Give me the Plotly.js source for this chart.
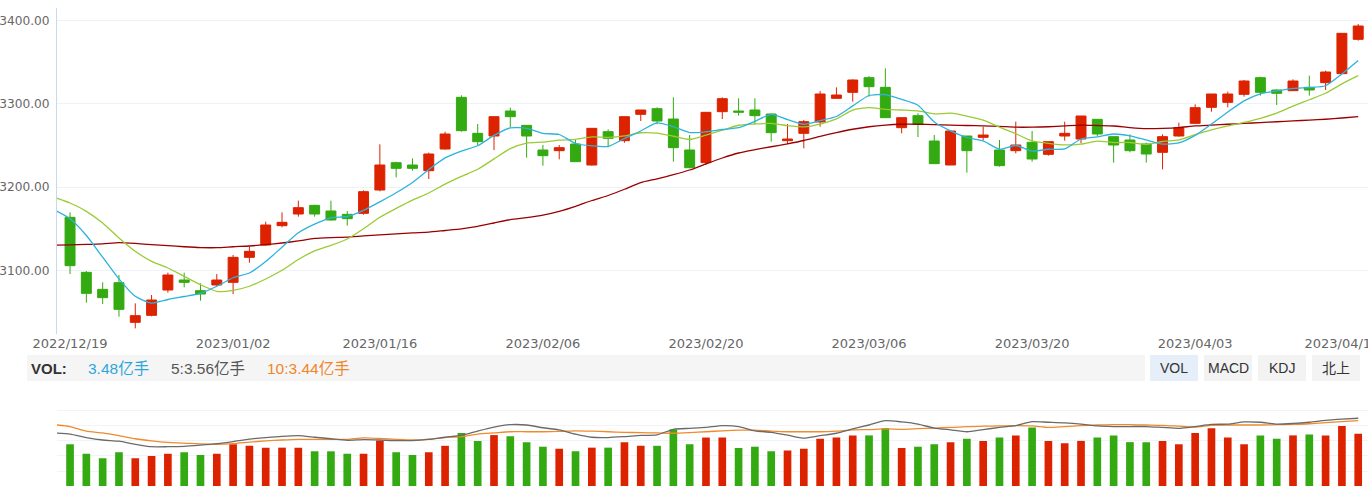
<!DOCTYPE html>
<html>
<head>
<meta charset="utf-8">
<script src="https://cdn.plot.ly/plotly-3.0.1.min.js"></script>
<style>
html,body{margin:0;padding:0;background:#fff;}
#chart{width:1368px;height:486px;}
</style>
</head>
<body>
<div id="chart"></div>
<script>
// ---------- data ----------
const dates = [
 '2022/12/19','2022/12/20','2022/12/21','2022/12/22','2022/12/23','2022/12/26','2022/12/27','2022/12/28','2022/12/29','2022/12/30',
 '2023/01/03','2023/01/04','2023/01/05','2023/01/06','2023/01/09','2023/01/10','2023/01/11','2023/01/12','2023/01/13','2023/01/16',
 '2023/01/17','2023/01/18','2023/01/19','2023/01/20','2023/01/30','2023/01/31','2023/02/01','2023/02/02','2023/02/03','2023/02/06',
 '2023/02/07','2023/02/08','2023/02/09','2023/02/10','2023/02/13','2023/02/14','2023/02/15','2023/02/16','2023/02/17','2023/02/20',
 '2023/02/21','2023/02/22','2023/02/23','2023/02/24','2023/02/27','2023/02/28','2023/03/01','2023/03/02','2023/03/03','2023/03/06',
 '2023/03/07','2023/03/08','2023/03/09','2023/03/10','2023/03/13','2023/03/14','2023/03/15','2023/03/16','2023/03/17','2023/03/20',
 '2023/03/21','2023/03/22','2023/03/23','2023/03/24','2023/03/27','2023/03/28','2023/03/29','2023/03/30','2023/03/31','2023/04/03',
 '2023/04/04','2023/04/06','2023/04/07','2023/04/10','2023/04/11','2023/04/12','2023/04/13','2023/04/14','2023/04/17','2023/04/18'
];
const prevDate = '2022/12/16'; // moving averages start one session earlier

const open = [
 3163.8,3097.8,3077.4,3085.4,3037.8,3046.2,3076.6,3088.6,3075.8,3082.6,
 3085.8,3115.8,3130.6,3153.8,3167.8,3178.2,3171.4,3167.4,3168.6,3196.6,
 3229.4,3226.6,3219.8,3245.8,3307.8,3264.6,3261.4,3291.4,3274.2,3244.6,
 3243.8,3251.8,3226.6,3266.6,3255.8,3287.4,3294.2,3281.8,3244.6,3229.4,
 3290.6,3291.4,3292.6,3287.8,3255.8,3264.6,3278.2,3306.6,3313.8,3331.4,
 3319.8,3271.4,3285.8,3255.4,3226.6,3261.4,3259.8,3244.6,3243.8,3253.8,
 3239.4,3261.4,3257.8,3281.4,3260.6,3256.6,3251.8,3241.8,3261.4,3276.6,
 3295.8,3301.8,3311.4,3331.4,3316.6,3315.8,3319.8,3325.4,3336.2,3377.4
];
const high = [
 3169.8,3099.4,3085.8,3094.6,3060.6,3070.6,3097.4,3097.4,3084.6,3095.8,
 3118.6,3128.6,3158.6,3169.8,3183.8,3178.8,3183.8,3171.4,3196.2,3251.4,
 3230.6,3234.6,3241.4,3266.6,3310.2,3275.8,3284.6,3295.4,3274.2,3250.6,
 3250.6,3256.6,3270.6,3269.4,3284.6,3292.6,3295.8,3307.8,3262.6,3289.8,
 3307.8,3306.6,3306.6,3288.6,3275.8,3280.6,3315.4,3319.8,3329.4,3333.4,
 3342.6,3283.4,3288.6,3262.6,3267.4,3261.4,3272.6,3256.6,3278.6,3267.4,
 3254.6,3278.6,3285.4,3281.4,3260.6,3263.4,3253.4,3263.4,3277.4,3299.4,
 3311.8,3314.6,3328.6,3332.6,3317.4,3329.4,3333.8,3339.8,3384.6,3395.8
];
const low = [
 3095.8,3061.4,3059.8,3044.6,3030.6,3045.0,3073.4,3079.8,3063.8,3081.0,
 3071.8,3109.4,3130.0,3151.8,3164.6,3164.6,3159.8,3153.8,3167.0,3195.0,
 3211.8,3219.8,3209.8,3245.0,3266.6,3250.6,3244.6,3271.8,3235.4,3225.8,
 3233.4,3230.6,3225.8,3247.8,3253.4,3279.4,3275.4,3230.6,3222.6,3226.6,
 3281.8,3285.8,3275.4,3254.6,3251.8,3246.6,3272.6,3306.6,3302.6,3308.6,
 3283.4,3264.6,3260.2,3228.2,3226.6,3217.4,3256.6,3224.6,3240.6,3230.6,
 3237.8,3255.8,3252.6,3261.4,3229.4,3241.8,3229.4,3221.4,3260.6,3276.6,
 3290.6,3295.8,3308.6,3309.8,3298.6,3315.4,3309.8,3316.6,3336.2,3375.8
];
const close = [
 3105.8,3072.6,3067.4,3053.4,3045.8,3064.6,3094.6,3085.8,3071.8,3088.6,
 3115.8,3123.0,3154.6,3157.8,3175.4,3167.8,3160.6,3162.2,3194.6,3226.6,
 3222.6,3222.6,3239.8,3263.8,3267.8,3254.6,3284.6,3284.6,3261.4,3237.8,
 3247.4,3230.6,3270.6,3258.6,3284.6,3292.6,3279.4,3247.4,3223.4,3289.8,
 3306.2,3290.0,3285.8,3265.4,3257.8,3278.6,3311.8,3310.6,3328.6,3320.6,
 3283.4,3283.4,3275.4,3228.2,3267.4,3243.8,3262.6,3225.8,3250.6,3233.8,
 3254.6,3264.6,3285.4,3263.8,3250.6,3243.8,3239.8,3260.6,3271.4,3295.4,
 3311.8,3311.8,3327.4,3313.8,3312.6,3327.4,3316.6,3338.2,3384.6,3393.4
];
// volume (亿手)
const volume = [
 3.88,3.57,3.42,3.62,3.42,3.50,3.57,3.62,3.53,3.57,
 3.88,3.83,3.77,3.77,3.77,3.65,3.65,3.57,3.57,4.00,
 3.62,3.53,3.62,3.83,4.25,3.99,4.18,4.14,3.95,3.80,
 3.73,3.65,3.77,3.77,3.95,3.83,3.83,4.36,3.88,4.10,
 4.10,3.76,3.80,3.65,3.68,3.73,4.06,4.10,4.17,4.17,
 4.40,3.76,3.80,3.88,3.95,4.06,3.99,4.10,4.17,4.43,
 3.99,3.91,3.99,4.10,4.17,3.95,3.95,3.99,3.88,4.25,
 4.40,4.10,3.88,4.17,4.06,4.17,4.20,4.17,4.48,4.22
];
// moving averages, first value belongs to prevDate
const ma5 = [
 3173,3162,3142,3116,3090,
 3069.0,3060.8,3065.2,3068.8,3072.5,3081.1,3091.3,3097.0,3110.8,3128.0,
 3145.3,3155.7,3163.2,3164.8,3172.1,3182.4,3193.3,3205.7,3221.2,3235.1,
 3243.3,3249.7,3262.1,3271.1,3270.6,3264.6,3263.2,3252.4,3249.6,3249.0,
 3258.4,3267.4,3277.2,3272.5,3265.5,3266.5,3269.2,3271.4,3279.0,3287.4,
 3281.0,3275.5,3279.9,3284.8,3297.5,3310.0,3311.0,3305.3,3298.3,3278.2,
 3267.6,3259.6,3255.5,3245.6,3250.0,3243.3,3245.5,3245.9,3257.8,3260.4,
 3263.8,3261.6,3256.7,3251.7,3253.2,3262.2,3275.8,3290.2,3303.6,3312.0,
 3315.5,3318.6,3319.6,3321.7,3335.9,3352.0
];
const ma10 = [
 3188,3181,3171,3157,3139,3123,3111,3103,3093,3083,
 3075.0,3076.1,3081.1,3089.8,3100.3,3113.2,3123.5,3130.1,3137.8,3150.1,
 3163.9,3174.5,3184.5,3193.0,3203.6,3212.9,3221.5,3233.9,3246.2,3252.9,
 3254.0,3256.5,3257.3,3260.4,3259.8,3261.5,3265.3,3264.8,3261.1,3257.3,
 3262.5,3268.3,3274.3,3275.8,3276.5,3273.8,3272.4,3275.7,3281.9,3292.5,
 3295.5,3293.3,3292.6,3291.6,3287.9,3288.8,3285.3,3280.4,3272.0,3264.1,
 3255.5,3252.6,3250.7,3251.7,3255.2,3253.6,3253.6,3251.3,3254.8,3256.8,
 3263.0,3268.7,3273.5,3277.7,3282.6,3288.9,3297.2,3304.9,3312.7,3324.0,3333.8
];
const ma60 = [
 3130.5,3130.8,3131.3,3132.0,3133.4,3132.5,3131.0,3129.8,3128.5,3127.5,
 3127.4,3128.5,3129.4,3131.0,3133.0,3135.5,3138.5,3139.5,3140.0,3141.5,
 3142.8,3144.0,3145.2,3146.0,3148.0,3150.0,3153.0,3157.0,3161.0,3163.5,
 3166.5,3171.0,3177.0,3184.0,3190.0,3197.5,3205.5,3210.0,3215.0,3220.6,
 3228.0,3235.0,3241.0,3245.0,3248.5,3252.0,3256.0,3261.0,3265.5,3269.5,
 3272.5,3274.5,3275.5,3275.5,3275.0,3274.5,3274.0,3273.5,3273.0,3272.0,
 3272.0,3272.5,3273.5,3274.5,3274.0,3273.4,3271.5,3270.2,3270.5,3271.5,
 3273.5,3274.5,3275.5,3276.5,3277.5,3278.5,3279.5,3280.5,3281.5,3283.0,3284.6
];
const volMa5 = [
 4.25,4.21,4.10,4.02,3.98,3.88,3.80,3.80,3.81,3.85,
 3.90,3.97,4.05,4.10,4.14,4.16,4.11,4.06,4.01,4.03,
 4.02,4.00,4.00,4.04,4.11,4.17,4.31,4.44,4.52,4.51,
 4.42,4.35,4.21,4.11,4.10,4.13,4.17,4.19,4.37,4.40,
 4.43,4.49,4.46,4.32,4.27,4.18,4.08,4.16,4.24,4.38,
 4.51,4.65,4.61,4.54,4.41,4.35,4.29,4.36,4.43,4.49,
 4.62,4.60,4.58,4.54,4.48,4.46,4.46,4.46,4.43,4.40,
 4.46,4.53,4.54,4.61,4.60,4.54,4.56,4.60,4.66,4.70,4.73
];
const volMa10 = [
 4.52,4.46,4.31,4.25,4.16,4.06,3.99,3.94,3.92,3.89,
 3.88,3.90,3.95,3.99,4.02,4.04,4.04,4.04,4.04,4.09,
 4.07,4.04,4.02,4.05,4.10,4.13,4.21,4.25,4.29,4.29,
 4.29,4.30,4.32,4.31,4.29,4.27,4.26,4.25,4.24,4.26,
 4.29,4.32,4.34,4.34,4.31,4.29,4.29,4.29,4.31,4.35,
 4.36,4.38,4.37,4.39,4.41,4.43,4.46,4.47,4.48,4.49,
 4.48,4.43,4.46,4.49,4.51,4.52,4.52,4.51,4.50,4.47,
 4.44,4.50,4.51,4.51,4.51,4.52,4.53,4.55,4.59,4.62,4.65
];
const tickDates  = ['2022/12/19','2023/01/03','2023/01/16','2023/02/06','2023/02/20','2023/03/06','2023/03/20','2023/04/03','2023/04/17'];
const tickLabels = ['2022/12/19','2023/01/02','2023/01/16','2023/02/06','2023/02/20','2023/03/06','2023/03/20','2023/04/03','2023/04/17'];
const volLabel = 'VOL:';
const volNow = '3.48亿手';
const volMa5Text = '5:3.56亿手';
const volMa10Text = '10:3.44亿手';
const buttons = ['VOL','MACD','KDJ','北上'];

// ---------- style ----------
const RED = '#dd2200', GREEN = '#33aa11';
const W = 1368, H = 486, ML = 57, MT = 8, MB = 0, MR = 0;
const PW = W - ML - MR, PH = H - MT - MB;
const px = x => (x - ML) / PW;
const py = y => (H - MB - y) / PH;

const idx = dates.map((d, i) => i);
const maDates = [prevDate].concat(dates);
const maIdx = maDates.map((d, i) => i - 1);
const volColors = close.map((c, i) => c >= open[i] ? RED : GREEN);

const traces = [
  {
    type: 'candlestick', x: idx, open: open, high: high, low: low, close: close,
    text: dates, hoverinfo: 'text',
    increasing: {line: {color: RED, width: 1}, fillcolor: RED},
    decreasing: {line: {color: GREEN, width: 1}, fillcolor: GREEN},
    xaxis: 'x', yaxis: 'y'
  },
  {type: 'scatter', mode: 'lines', x: maIdx, y: ma60, line: {color: '#990000', width: 1.3, shape: 'spline', smoothing: 0.6}, hoverinfo: 'skip', xaxis: 'x', yaxis: 'y'},
  {type: 'scatter', mode: 'lines', x: maIdx, y: ma10, line: {color: '#9acb34', width: 1.3, shape: 'spline', smoothing: 0.6}, hoverinfo: 'skip', xaxis: 'x', yaxis: 'y'},
  {type: 'scatter', mode: 'lines', x: maIdx, y: ma5, line: {color: '#2cb3dc', width: 1.3, shape: 'spline', smoothing: 0.6}, hoverinfo: 'skip', xaxis: 'x', yaxis: 'y'},
  {
    type: 'bar', x: idx, y: volume, text: dates, hoverinfo: 'text', textposition: 'none',
    marker: {color: volColors, line: {width: 0}},
    xaxis: 'x2', yaxis: 'y2'
  },
  {type: 'scatter', mode: 'lines', x: maIdx, y: volMa10, line: {color: '#f08a2a', width: 1.3, shape: 'spline', smoothing: 0.6}, hoverinfo: 'skip', xaxis: 'x2', yaxis: 'y2'},
  {type: 'scatter', mode: 'lines', x: maIdx, y: volMa5, line: {color: '#6a6a6a', width: 1.3, shape: 'spline', smoothing: 0.6}, hoverinfo: 'skip', xaxis: 'x2', yaxis: 'y2'}
];

const xTickFont = {family: 'DejaVu Sans', size: 13, color: '#666'};
const yTickFont = {family: 'DejaVu Sans', size: 12.2, color: '#666'};
const uiFont = 'Liberation Sans, Noto Sans CJK SC, sans-serif';

const shapes = [
  {type: 'rect', xref: 'paper', yref: 'paper', x0: px(27), x1: px(1145), y0: py(381), y1: py(355), fillcolor: '#f5f5f5', line: {width: 0}}
];
const btnX = [[1150, 1198], [1204, 1252], [1258, 1306], [1312, 1360]];
const annotations = [
  {xref: 'paper', yref: 'paper', x: px(29), y: py(368), xanchor: 'left', yanchor: 'middle', showarrow: false, text: '<b>' + volLabel + '</b>', font: {family: uiFont, size: 15, color: '#333'}},
  {xref: 'paper', yref: 'paper', x: px(86), y: py(368), xanchor: 'left', yanchor: 'middle', showarrow: false, text: volNow, font: {family: uiFont, size: 15.5, color: '#2ea6dd'}},
  {xref: 'paper', yref: 'paper', x: px(169), y: py(368), xanchor: 'left', yanchor: 'middle', showarrow: false, text: volMa5Text, font: {family: uiFont, size: 15.5, color: '#555'}},
  {xref: 'paper', yref: 'paper', x: px(265), y: py(368), xanchor: 'left', yanchor: 'middle', showarrow: false, text: volMa10Text, font: {family: uiFont, size: 15.5, color: '#f0862a'}}
];
buttons.forEach((b, i) => {
  shapes.push({type: 'rect', xref: 'paper', yref: 'paper', x0: px(btnX[i][0]), x1: px(btnX[i][1]), y0: py(381), y1: py(355),
    fillcolor: i === 0 ? '#e6eef9' : '#f3f3f3', line: {width: 0}});
  annotations.push({xref: 'paper', yref: 'paper', x: px((btnX[i][0] + btnX[i][1]) / 2), y: py(368), xanchor: 'center', yanchor: 'middle',
    showarrow: false, text: b, font: {family: uiFont, size: 14, color: '#333'}});
});

const layout = {
  width: W, height: H,
  margin: {l: ML, r: MR, t: MT, b: MB, pad: 0},
  paper_bgcolor: '#fff', plot_bgcolor: '#fff',
  showlegend: false,
  boxgap: 0.39, boxgroupgap: 0,
  bargap: 0.53,
  hovermode: 'closest',
  xaxis: {
    domain: [0, 1], anchor: 'y', range: [-0.8, 79.6],
    tickmode: 'array', tickvals: tickDates.map(d => dates.indexOf(d)), ticktext: tickLabels,
    showgrid: false, zeroline: false, showline: false, ticks: '',
    tickfont: xTickFont, rangeslider: {visible: false}, ticklabeloverflow: 'allow'
  },
  yaxis: {
    domain: [1 - (334 - MT) / PH, 1], anchor: 'x', range: [3023.8, 3415],
    tick0: 3000, dtick: 100, tickformat: '.2f',
    showgrid: true, gridcolor: '#edf2f8', gridwidth: 1,
    showline: true, linecolor: '#c6d9f1', linewidth: 1,
    zeroline: false, ticks: '', tickfont: yTickFont, ticklabelstandoff: 4
  },
  xaxis2: {
    domain: [0, 1], anchor: 'y2', range: [-0.8, 79.6],
    showticklabels: false, showgrid: false, zeroline: false, showline: false, ticks: ''
  },
  yaxis2: {
    domain: [0, py(400)], anchor: 'x2', range: [2.516, 5.327],
    tick0: 0, dtick: 0.5, showticklabels: false,
    showgrid: true, gridcolor: '#f0f3f7', zeroline: false, showline: false, ticks: ''
  },
  shapes: shapes,
  annotations: annotations
};

Plotly.newPlot('chart', traces, layout, {displayModeBar: false, staticPlot: true});
</script>
</body>
</html>
